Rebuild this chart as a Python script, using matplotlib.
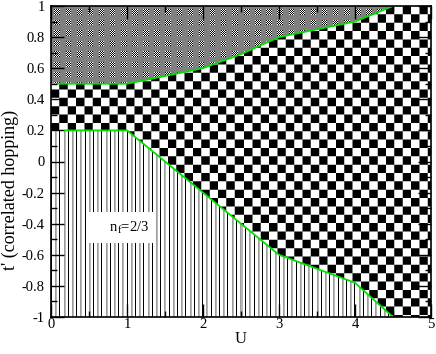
import numpy as np
import matplotlib
matplotlib.use("Agg")
import matplotlib.pyplot as plt
from matplotlib.ticker import MultipleLocator

# phase boundaries
U_upper = [0.09, 0.5, 1.0, 1.5, 2.0, 2.5, 3.0, 3.5, 4.0, 4.5]
t_upper = [0.50, 0.50, 0.50, 0.55, 0.60, 0.69, 0.80, 0.85, 0.90, 1.00]
U_lower = [0.18, 0.5, 1.0, 1.5, 2.0, 2.5, 3.0, 3.5, 4.0, 4.5]
t_lower = [0.20, 0.20, 0.20, 0.00, -0.20, -0.40, -0.60, -0.69, -0.78, -1.00]

x_ticks = [0, 1, 2, 3, 4, 5]
y_ticks = [-1, -0.8, -0.6, -0.4, -0.2, 0, 0.2, 0.4, 0.6, 0.8, 1]
y_ticklabels = ["-1", "-0.8", "-0.6", "-0.4", "-0.2", "0", "0.2", "0.4", "0.6", "0.8", "1"]
phase_label = "    n$_\\mathrm{f}$=2/3"

plt.rcParams['font.family'] = ['Liberation Serif', 'DejaVu Serif']
plt.rcParams['mathtext.fontset'] = 'custom'
plt.rcParams['mathtext.rm'] = 'Liberation Serif'

fig = plt.figure(figsize=(4.36, 3.54), dpi=100)
ax = fig.add_axes([51 / 436, 37 / 354, 380 / 436, 311 / 354])
ax.set_xlim(0, 5)
ax.set_ylim(-1, 1)

# pixel textures (grace style fill patterns)
W, H = 380, 311
jj, ii = np.meshgrid(np.arange(W), np.arange(H))


def checker(size, ss=4):
    acc = np.zeros((H, W))
    for a in range(ss):
        for b in range(ss):
            x = jj + (a + 0.5) / ss
            y = ii + (b + 0.5) / ss
            acc += (np.floor(x / size) + np.floor(y / size)) % 2
    return acc / ss ** 2


def dotted_gray():
    img = np.full((H, W), 0.5)
    px = jj % 11.1
    py = ii % 10.4
    inside = (px >= 3) & (px < 8.5) & (py >= 3) & (py < 8.5)
    fine = ((jj + ii) % 2).astype(float)
    img[inside] = fine[inside]
    return img


def vlines():
    img = np.ones((H, W))
    k = 0
    while True:
        p = int(round(k * 4.2))
        if p >= W:
            break
        if k % 2 == 0:
            img[:, p] = 0.0
        else:
            img[:, p] = 0.62
            if p + 1 < W:
                img[:, p + 1] = 0.72
        k += 1
    return img


# regions from the boundary data
xu = np.concatenate(([0], U_upper, [5]))
yu = np.concatenate(([t_upper[0]], t_upper, [1.0]))
xl = np.concatenate(([0], U_lower, [5]))
yl = np.concatenate(([t_lower[0]], t_lower, [-1.0]))
xs = np.linspace(0, 5, 1001)
yu_s = np.interp(xs, xu, yu)
yl_s = np.interp(xs, xl, yl)

regions = [
    (ax.fill_between(xs, yu_s, 1, facecolor='none', edgecolor='none'), dotted_gray()),
    (ax.fill_between(xs, yl_s, yu_s, facecolor='none', edgecolor='none'), checker(8.35)),
    (ax.fill_between(xs, -1, yl_s, facecolor='none', edgecolor='none'), vlines()),
]
for coll, tex in regions:
    im = ax.imshow(tex, cmap='gray', vmin=0, vmax=1, extent=(0, 5, -1, 1),
                   origin='upper', aspect='auto', interpolation='nearest', zorder=0)
    im.set_clip_path(coll.get_paths()[0], transform=ax.transData)

ax.plot(U_upper, t_upper, color='#00e000', lw=1.3, zorder=3)
ax.plot(U_lower, t_lower, color='#00e000', lw=1.3, zorder=3)

ax.text(0.93, -0.424, phase_label, fontsize=10.5, ha='center', va='center', zorder=4,
        bbox=dict(boxstyle='square,pad=0.5', facecolor='white', edgecolor='none'))

ax.set_xticks(x_ticks)
ax.set_yticks(y_ticks)
ax.set_yticklabels(y_ticklabels)
ax.xaxis.set_minor_locator(MultipleLocator(0.5))
ax.yaxis.set_minor_locator(MultipleLocator(0.1))
ax.tick_params(which='both', direction='in', top=True, right=True, width=1)
ax.tick_params(which='major', length=9.5, labelsize=10.5)
ax.tick_params(which='minor', length=4.5)
ax.tick_params(axis='x', pad=1)
ax.tick_params(axis='y', pad=4.5)
for s in ax.spines.values():
    s.set_linewidth(1.2)
    s.set_zorder(5)

ax.set_xlabel('U', fontsize=12)
ax.set_ylabel("t' (correlated hopping)", fontsize=13)
ax.xaxis.set_label_coords(0.5, -0.045)
ax.yaxis.set_label_coords(-0.084, 0.41)

fig.savefig('out.png', dpi=100)
